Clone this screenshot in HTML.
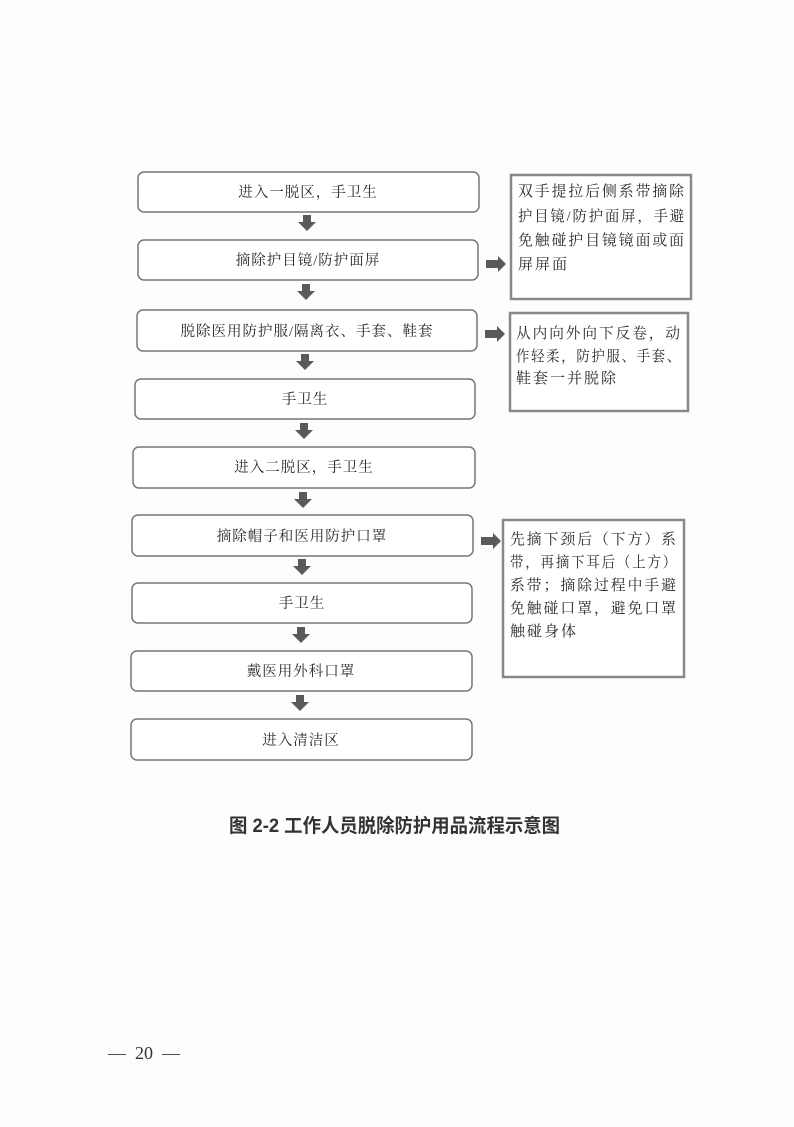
<!DOCTYPE html>
<html><head><meta charset="utf-8"><style>
html,body{margin:0;padding:0;background:#fdfdfd;}
svg text{font-family:"Liberation Serif","Noto Serif CJK SC","Noto Sans CJK SC",serif;fill:#2a2a2a;}
.m{font-size:14.5px;letter-spacing:1px;text-anchor:middle;}
.s{font-size:15px;letter-spacing:2px;}
</style></head><body>
<svg width="794" height="1122" xmlns="http://www.w3.org/2000/svg">
<defs>
<g id="da"><rect x="-4" y="0" width="8" height="7" fill="#5a5a5a"/><polygon points="-9,7 9,7 0,16" fill="#5a5a5a"/></g>
<g id="ra"><rect x="0" y="-4" width="12" height="8" fill="#5a5a5a"/><polygon points="12,-8 12,8 20,0" fill="#5a5a5a"/></g>
</defs>
<g fill="#fff" stroke="#777" stroke-width="1.5">
<rect x="138" y="172" width="341" height="40" rx="6"/>
<rect x="138" y="240" width="340" height="40" rx="6"/>
<rect x="137" y="310" width="340" height="41" rx="6"/>
<rect x="135" y="379" width="340" height="40" rx="6"/>
<rect x="133" y="447" width="342" height="41" rx="6"/>
<rect x="132" y="515" width="341" height="41" rx="6"/>
<rect x="132" y="583" width="340" height="40" rx="6"/>
<rect x="131" y="651" width="341" height="40" rx="6"/>
<rect x="131" y="719" width="341" height="41" rx="6"/>
</g>
<g fill="#fff" stroke="#888" stroke-width="2.5">
<rect x="511" y="175" width="180" height="124"/>
<rect x="510" y="313" width="178" height="98"/>
<rect x="503" y="520" width="181" height="157"/>
</g>
<text class="m" x="308" y="197">进入一脱区，手卫生</text>
<text class="m" x="308" y="265">摘除护目镜/防护面屏</text>
<text class="m" x="307" y="336">脱除医用防护服/隔离衣、手套、鞋套</text>
<text class="m" x="305" y="404">手卫生</text>
<text class="m" x="304" y="472">进入二脱区，手卫生</text>
<text class="m" x="302" y="541">摘除帽子和医用防护口罩</text>
<text class="m" x="302" y="608">手卫生</text>
<text class="m" x="301" y="676">戴医用外科口罩</text>
<text class="m" x="301" y="745">进入清洁区</text>
<use href="#da" x="307" y="215"/>
<use href="#da" x="306" y="284"/>
<use href="#da" x="305" y="354"/>
<use href="#da" x="304" y="423"/>
<use href="#da" x="303" y="492"/>
<use href="#da" x="302" y="559"/>
<use href="#da" x="301" y="627"/>
<use href="#da" x="300" y="695"/>
<use href="#ra" x="486" y="264"/>
<use href="#ra" x="485" y="334"/>
<use href="#ra" x="481" y="541"/>
<text class="s" x="518" y="196" textLength="168" lengthAdjust="spacingAndGlyphs">双手提拉后侧系带摘除</text>
<text class="s" x="518" y="221" textLength="168" lengthAdjust="spacingAndGlyphs">护目镜/防护面屏，手避</text>
<text class="s" x="518" y="245" textLength="168" lengthAdjust="spacingAndGlyphs">免触碰护目镜镜面或面</text>
<text class="s" x="518" y="269">屏屏面</text>
<text class="s" x="516" y="338" textLength="166" lengthAdjust="spacingAndGlyphs">从内向外向下反卷，动</text>
<text class="s" x="516" y="361" textLength="166" lengthAdjust="spacingAndGlyphs">作轻柔，防护服、手套、</text>
<text class="s" x="516" y="383">鞋套一并脱除</text>
<text class="s" x="510" y="544" textLength="168" lengthAdjust="spacingAndGlyphs">先摘下颈后（下方）系</text>
<text class="s" x="510" y="567" textLength="168" lengthAdjust="spacingAndGlyphs">带，再摘下耳后（上方）</text>
<text class="s" x="510" y="590" textLength="168" lengthAdjust="spacingAndGlyphs">系带；摘除过程中手避</text>
<text class="s" x="510" y="613" textLength="168" lengthAdjust="spacingAndGlyphs">免触碰口罩，避免口罩</text>
<text class="s" x="510" y="636">触碰身体</text>
<text x="229" y="832" textLength="331" lengthAdjust="spacingAndGlyphs" style="font-family:'Liberation Sans','Noto Sans CJK SC',sans-serif;font-size:19px;font-weight:bold;fill:#333">图 2-2 工作人员脱除防护用品流程示意图</text>
<text x="108" y="1059" style="font-size:18px;fill:#333" xml:space="preserve">—  20  —</text>
</svg>
</body></html>
